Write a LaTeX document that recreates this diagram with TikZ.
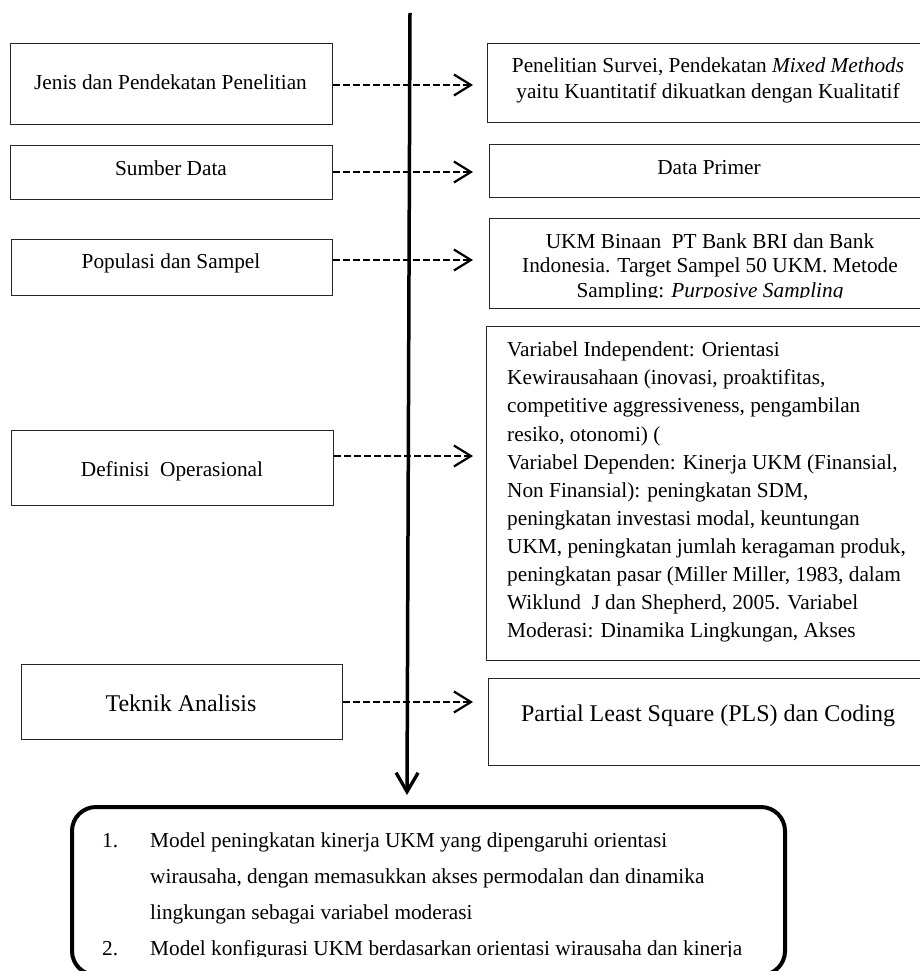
\documentclass[tikz,border=0pt]{standalone}
\usepackage{fontspec}
\setmainfont{Liberation Serif}
\usetikzlibrary{arrows.meta}
\tikzset{
  box/.style={draw=black!85, line width=1.1pt, rectangle, inner sep=0pt, anchor=north west},
  txt/.style={inner sep=0pt, font=\fontsize{21.3}{24.5}\selectfont},
  bigtxt/.style={inner sep=0pt, font=\fontsize{24}{28}\selectfont},
  dasharrow/.style={line width=2.5pt, dash pattern=on 7pt off 3pt,
    -{Straight Barb[length=17pt,width=21pt,line width=2.2pt]}},
  mainarrow/.style={line width=3.5pt,
    -{Straight Barb[length=19pt,width=22pt,line width=3.3pt]}},
  outbox/.style={draw=black, line width=4pt, rounded corners=24pt, rectangle, inner sep=0pt, anchor=north west},
}
\begin{document}
\begin{tikzpicture}[x=1pt,y=-1pt]
\useasboundingbox (0,0) rectangle (920,971);
\clip (0,0) rectangle (920,971);

% left boxes
\node[box, minimum width=322pt, minimum height=81pt] (l1) at (10,43) {};
\node[box, minimum width=322pt, minimum height=54pt] (l2) at (10,145) {};
\node[box, minimum width=321pt, minimum height=56pt] (l3) at (11,239) {};
\node[box, minimum width=322pt, minimum height=75pt] (l4) at (11,430) {};
\node[box, minimum width=321pt, minimum height=75pt] (l5) at (21,664) {};

% right boxes
\node[box, minimum width=444pt, minimum height=79pt] (r1) at (487,43) {};
\node[box, minimum width=442pt, minimum height=53pt] (r2) at (489,144) {};
\node[box, minimum width=442pt, minimum height=90pt] (r3) at (489,218) {};
\node[box, minimum width=445pt, minimum height=334pt] (r4) at (486,326) {};
\node[box, minimum width=443pt, minimum height=87pt] (r5) at (488,678) {};

% bottom box
\node[outbox, minimum width=713pt, minimum height=168pt] (bot) at (70,805) {};

% left texts
\node[txt, anchor=base] (tl1) at (170.5,89.3) {Jenis dan Pendekatan Penelitian};
\node[txt, anchor=base] (tl2) at (171,175.7) {Sumber Data};
\node[txt, anchor=base] (tl3) at (171,268) {Populasi dan Sampel};
\node[txt, anchor=base] (tl4) at (172,476.7) {Definisi\ \ Operasional};
\node[bigtxt, anchor=base] (tl5) at (181,711.7) {Teknik Analisis};

% right texts
\node[txt, anchor=base, font=\fontsize{21.3}{25.5}\selectfont] (tr1) at (708,72.7)
  {\parbox[t]{430pt}{\centering Penelitian Survei, Pendekatan \textit{Mixed Methods}\\
   yaitu Kuantitatif dikuatkan dengan Kualitatif}};
\node[txt, anchor=base] (tr2) at (709,174) {Data Primer};
\begin{scope}
\clip (489,218) rectangle (931,297);
\node[txt, anchor=base, font=\fontsize{21.3}{24.4}\selectfont] (tr3) at (710,248.3)
  {\parbox[t]{430pt}{\centering UKM Binaan\ \ PT Bank BRI dan Bank\\
   Indonesia. Target Sampel 50 UKM. Metode\\
   Sampling: \textit{Purposive Sampling}}};
\end{scope}
\node[txt, anchor=base west, font=\fontsize{21.3}{28.1}\selectfont] (tr4) at (507,356.7)
  {\parbox[t]{420pt}{\raggedright Variabel Independent: Orientasi\\
   Kewirausahaan (inovasi, proaktifitas,\\
   competitive aggressiveness, pengambilan\\
   resiko, otonomi) (\\
   Variabel Dependen: Kinerja UKM (Finansial,\\
   Non Finansial): peningkatan SDM,\\
   peningkatan investasi modal, keuntungan\\
   UKM, peningkatan jumlah keragaman produk,\\
   peningkatan pasar (Miller Miller, 1983, dalam\\
   Wiklund\ \ J dan Shepherd, 2005. Variabel\\
   Moderasi: Dinamika Lingkungan, Akses}};
\node[bigtxt, anchor=base] (tr5) at (708,721) {Partial Least Square (PLS) dan Coding};

% bottom texts
\begin{scope}
\clip (72,807) rectangle (781,956.5);
\node[txt, anchor=base west] (n1) at (102,847) {1.};
\node[txt, anchor=base west] (n2) at (102,955.9) {2.};
\node[txt, anchor=base west, font=\fontsize{21.3}{36.3}\selectfont] (bt) at (150,847)
  {\parbox[t]{620pt}{\raggedright Model peningkatan kinerja UKM yang dipengaruhi orientasi\\
   wirausaha, dengan memasukkan akses permodalan dan dinamika\\
   lingkungan sebagai variabel moderasi\\
   Model konfigurasi UKM berdasarkan orientasi wirausaha dan kinerja}};
\end{scope}

% dashed connectors
\coordinate (a1) at (473,85);
\coordinate (a2) at (473,172);
\coordinate (a3) at (473,260);
\coordinate (a4) at (473,456);
\coordinate (a5) at (473,702);
\draw[dasharrow] (l1.east |- a1) -- (a1);
\draw[dasharrow] (l2.east |- a2) -- (a2);
\draw[dasharrow] (l3.east |- a3) -- (a3);
\draw[dasharrow] (l4.east |- a4) -- (a4);
\draw[dasharrow] (l5.east |- a5) -- (a5);

% main vertical arrow
\coordinate (mtop) at (410,13);
\coordinate (mtip) at (407,795);
\draw[mainarrow] (mtop) -- (mtip);
\end{tikzpicture}
\end{document}
